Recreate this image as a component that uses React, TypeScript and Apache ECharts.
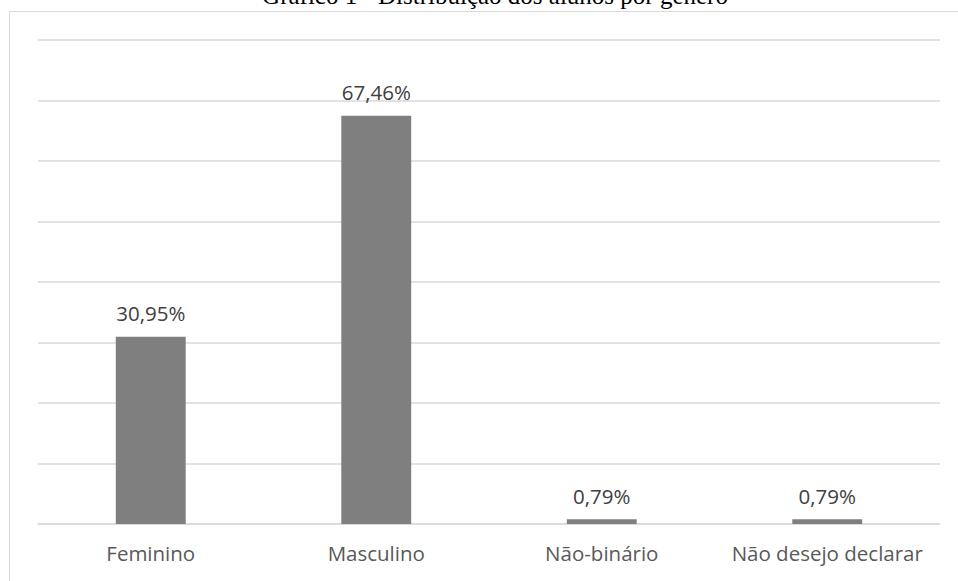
import React, { useEffect, useRef } from "react";
import * as echarts from "echarts";

const title = "Gráfico 1 - Distribuição dos alunos por gênero";
const categories = ["Feminino", "Masculino", "Não-binário", "Não desejo declarar"];
const values = [30.95, 67.46, 0.79, 0.79];
const yMax = 80;
const yInterval = 10;

export default function App() {
  const ref = useRef<HTMLDivElement>(null);
  useEffect(() => {
    document.body.style.margin = "0";
    const chart = echarts.init(ref.current!, undefined, { renderer: "svg" });
    chart.setOption({
      animation: false,
      backgroundColor: "#ffffff",
      graphic: [
        {
          type: "rect",
          shape: { x: 9.5, y: 11.5, width: 1000, height: 700 },
          style: { fill: "none", stroke: "#d9d9d9", lineWidth: 1 },
          silent: true,
        },
        {
          type: "text",
          x: 495,
          y: 8,
          style: {
            text: title,
            font: "25px 'Liberation Serif', serif",
            fill: "#000000",
            textAlign: "center",
            textVerticalAlign: "bottom",
          },
          silent: true,
        },
      ],
      grid: { left: 38, right: 18, top: 40, bottom: 57 },
      xAxis: {
        type: "category",
        data: categories,
        axisLine: { lineStyle: { color: "#d9d9d9", width: 1.5 } },
        axisTick: { show: false },
        axisLabel: {
          interval: 0,
          hideOverlap: false,
          color: "#595959",
          fontFamily: "'Open Sans', sans-serif",
          fontSize: 20.5,
          margin: 18,
        },
      },
      yAxis: {
        type: "value",
        min: 0,
        max: yMax,
        interval: yInterval,
        axisLabel: { show: false },
        axisLine: { show: false },
        axisTick: { show: false },
        splitLine: { lineStyle: { color: "#d9d9d9", width: 1.5 } },
      },
      series: [
        {
          type: "bar",
          data: values,
          barWidth: "31%",
          itemStyle: { color: "#7f7f7f" },
          label: {
            show: true,
            position: "top",
            distance: 13,
            color: "#404040",
            fontFamily: "'Open Sans', sans-serif",
            fontSize: 20.5,
            formatter: (p: any) => p.value.toFixed(2).replace(".", ",") + "%",
          },
        },
      ],
    });
    return () => chart.dispose();
  }, []);
  return <div ref={ref} style={{ position: "fixed", left: 0, top: 0, width: 958, height: 581 }} />;
}
